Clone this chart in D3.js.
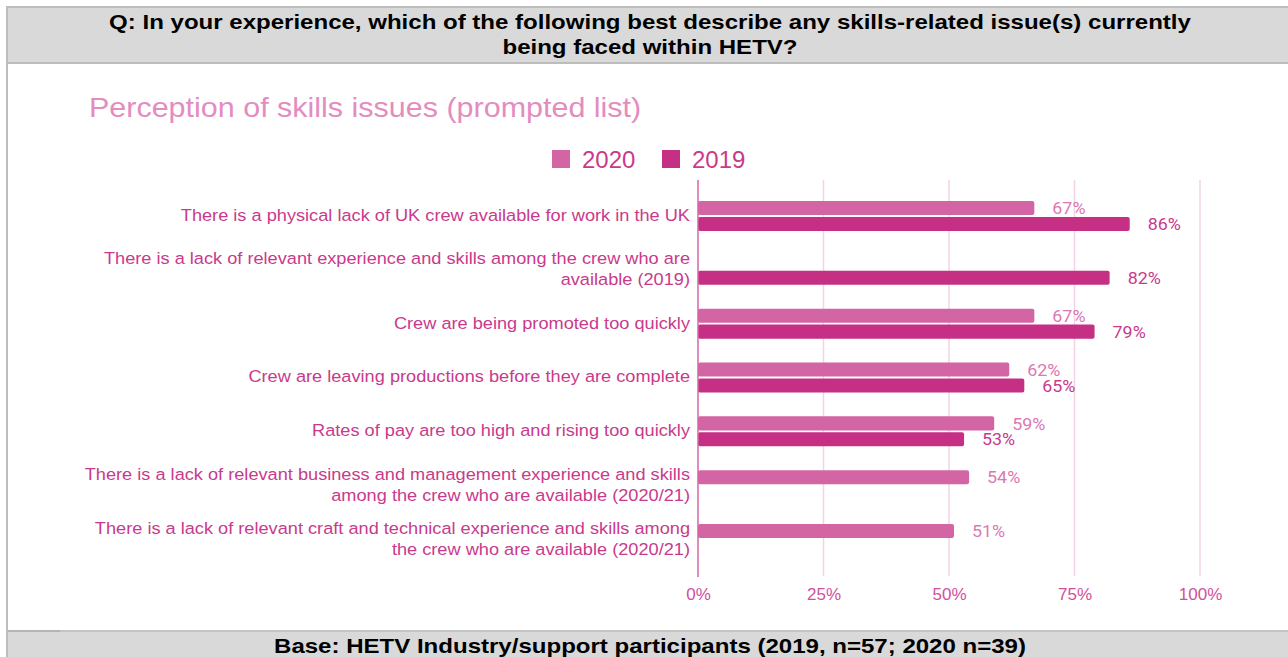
<!DOCTYPE html>
<html>
<head>
<meta charset="utf-8">
<script src="https://cdn.jsdelivr.net/npm/d3@7"></script>
<style>
  html, body { margin: 0; padding: 0; background: #fff; }
  svg { display: block; }
</style>
</head>
<body>
<svg id="chart" width="1288" height="657"></svg>
<script>
// Survey question, chart title and base note
const questionLines = [
  "Q: In your experience, which of the following best describe any skills-related issue(s) currently",
  "being faced within HETV?"
];
const chartTitle = "Perception of skills issues (prompted list)";
const baseNote = "Base: HETV Industry/support participants (2019, n=57; 2020 n=39)";

// Categories (label lines) and series
const categories = [
  ["There is a physical lack of UK crew available for work in the UK"],
  ["There is a lack of relevant experience and skills among the crew who are", "available (2019)"],
  ["Crew are being promoted too quickly"],
  ["Crew are leaving productions before they are complete"],
  ["Rates of pay are too high and rising too quickly"],
  ["There is a lack of relevant business and management experience and skills", "among the crew who are available (2020/21)"],
  ["There is a lack of relevant craft and technical experience and skills among", "the crew who are available (2020/21)"]
];
const seriesNames = ["2020", "2019"];
const values2020 = [67, null, 67, 62, 59, 54, 51];
const values2019 = [86, 82, 79, 65, 53, null, null];
const tickValues = [0, 25, 50, 75, 100];

const colors = { "2020": "#d465a4", "2019": "#c53085" };
const labelColors = { "2020": "#dc78b3", "2019": "#c93a8c" };
const sans = "Liberation Sans, Arial, sans-serif";

const svg = d3.select("#chart");

// text placed at (x, y) and widened horizontally by sx
function wideText(parent, x, y, sx, str) {
  return parent.append("text")
    .attr("transform", `translate(${x},${y}) scale(${sx},1)`)
    .text(str);
}

// ---- frame: header band, footer band, left border
svg.append("rect").attr("x", 6).attr("y", 6).attr("width", 1282).attr("height", 58).attr("fill", "#bdbdbd");
svg.append("rect").attr("x", 8).attr("y", 8).attr("width", 1280).attr("height", 54).attr("fill", "#d9d9d9");
svg.append("rect").attr("x", 6).attr("y", 6).attr("width", 2).attr("height", 651).attr("fill", "#bdbdbd");
svg.append("rect").attr("x", 8).attr("y", 630).attr("width", 1280).attr("height", 2).attr("fill", "#c4c4c4");
svg.append("rect").attr("x", 8).attr("y", 630).attr("width", 52).attr("height", 2).attr("fill", "#b4b4b4");
svg.append("rect").attr("x", 8).attr("y", 632).attr("width", 1280).attr("height", 25).attr("fill", "#d9d9d9");

questionLines.forEach((line, i) => {
  wideText(svg, 650, 29 + i * 25, 1.145, line)
    .attr("text-anchor", "middle")
    .attr("font-family", sans)
    .attr("font-weight", "bold").attr("font-size", 21).attr("fill", "#000");
});

wideText(svg, 650, 653, 1.145, baseNote)
  .attr("text-anchor", "middle")
  .attr("font-family", sans)
  .attr("font-weight", "bold").attr("font-size", 21).attr("fill", "#000");

// ---- chart title
wideText(svg, 89, 117, 1.07, chartTitle)
  .attr("font-family", sans)
  .attr("font-size", 28.5).attr("fill", "#e38dbf");

// ---- legend
const legend = svg.append("g");
const legendX = [552, 662];
seriesNames.forEach((s, i) => {
  legend.append("rect").attr("x", legendX[i]).attr("y", 150).attr("width", 18).attr("height", 18)
    .attr("fill", colors[s]);
  legend.append("text").attr("x", legendX[i] + 30).attr("y", 168)
    .attr("font-family", sans)
    .attr("font-size", 24).attr("fill", "#c93a8c").text(s);
});

// ---- scales
const x = d3.scaleLinear().domain([0, 100]).range([698, 1200]);
const y = d3.scaleBand().domain(d3.range(categories.length)).range([189, 566]);
const yInner = d3.scaleBand().domain(seriesNames).range([0, 30]).paddingInner(0.12);
const groupOffset = (y.bandwidth() - 30) / 2;

// gridlines
svg.append("g").selectAll("line").data(tickValues.filter(t => t > 0)).join("line")
  .attr("x1", d => x(d)).attr("x2", d => x(d))
  .attr("y1", 180).attr("y2", 576)
  .attr("stroke", "#f4d3e6").attr("stroke-width", 1.5);

// x axis tick labels
const xAxis = d3.axisBottom(x).tickValues(tickValues).tickFormat(d => d + "%").tickSize(0).tickPadding(0);
const axisG = svg.append("g").attr("transform", "translate(0,588)").call(xAxis);
axisG.select(".domain").remove();
axisG.selectAll("text")
  .attr("font-family", sans)
  .attr("font-size", 17).attr("fill", "#d24f9c").attr("dy", "0.71em");

// ---- bars
const rows = [];
categories.forEach((c, i) => {
  [["2020", values2020[i]], ["2019", values2019[i]]].forEach(([s, v]) => {
    if (v !== null) rows.push({ cat: i, series: s, value: v });
  });
});

const barY = d => y(d.cat) + groupOffset + yInner(d.series);

svg.append("g").selectAll("rect").data(rows).join("rect")
  .attr("x", x(0))
  .attr("y", barY)
  .attr("width", d => x(d.value) - x(0))
  .attr("height", yInner.bandwidth())
  .attr("rx", 2)
  .attr("fill", d => colors[d.series]);

// zero line
svg.append("line")
  .attr("x1", x(0)).attr("x2", x(0)).attr("y1", 180).attr("y2", 577)
  .attr("stroke", "#d465a4").attr("stroke-width", 1.5);

// value labels
svg.append("g").selectAll("text").data(rows).join("text")
  .attr("transform", d => `translate(${x(d.value) + 18},${barY(d) + yInner.bandwidth() / 2}) scale(1.05,1)`)
  .attr("dy", "0.36em")
  .attr("font-family", "Roboto, sans-serif")
  .attr("font-size", 17)
  .attr("fill", d => labelColors[d.series])
  .text(d => d.value + "%");

// category labels
const catG = svg.append("g").selectAll("text").data(categories).join("text")
  .attr("text-anchor", "end")
  .attr("font-family", sans)
  .attr("font-size", 17)
  .attr("fill", "#c93a8c")
  .attr("transform", (d, i) => `translate(690,${y(i) + y.bandwidth() / 2 - 1}) scale(1.07,1)`);
catG.each(function (lines) {
  const lh = 21;
  d3.select(this).selectAll("tspan").data(lines).join("tspan")
    .attr("x", 0)
    .attr("y", (d, j) => (j - (lines.length - 1) / 2) * lh)
    .attr("dy", "0.35em")
    .text(d => d);
});
</script>
</body>
</html>
